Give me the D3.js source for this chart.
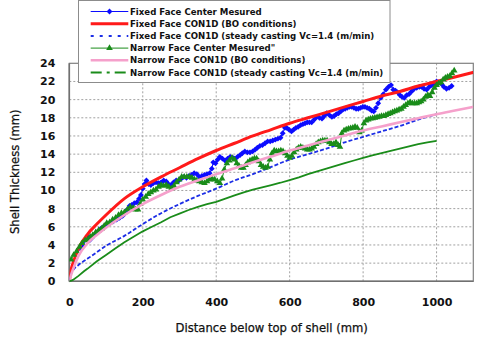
<!DOCTYPE html>
<html><head><meta charset="utf-8">
<script src="https://cdn.jsdelivr.net/npm/d3@7"></script>
<style>
html,body{margin:0;padding:0;background:#fff;}
svg{display:block;}
</style></head>
<body>
<script>
// ---------- DATA ----------
const xTicks = [0, 200, 400, 600, 800, 1000];
const yTicks = [0, 2, 4, 6, 8, 10, 12, 14, 16, 18, 20, 22, 24];

const legendLabels = [
  "Fixed Face Center Mesured",
  "Fixed Face CON1D (BO conditions)",
  "Fixed Face CON1D (steady casting Vc=1.4 (m/min)",
  "Narrow Face Center Mesured\"",
  "Narrow Face CON1D (BO conditions)",
  "Narrow Face CON1D (steady casting Vc=1.4 (m/min)"
];

const fixedMeasured = [[30,3.6],[38,3.9],[45,4.6],[50,5.0],[55,4.5],[62,4.8],[70,5.2],[78,5.5],[86,5.8],[93,6.0],[102,6.2],[111,6.4],[120,6.6],[129,6.8],[137,7.0],[145,7.2],[152,7.5],[158,7.9],[164,8.3],[170,8.4],[177,8.6],[184,8.7],[190,9.1],[195,9.5],[200,10.2],[205,10.7],[210,11.1],[216,10.7],[222,10.6],[229,10.8],[236,10.9],[243,10.8],[250,10.9],[257,11.1],[264,11.0],[270,10.7],[277,10.6],[284,10.9],[291,11.1],[298,11.1],[305,11.3],[312,11.5],[319,11.4],[326,11.6],[333,11.7],[340,11.9],[347,11.8],[354,11.5],[361,11.6],[368,11.7],[375,11.8],[382,11.9],[388,12.4],[392,13.1],[398,13.0],[404,13.4],[410,13.7],[417,13.5],[424,13.3],[431,13.5],[438,13.7],[445,13.6],[451,13.5],[458,13.7],[465,13.9],[471,14.1],[478,14.3],[485,14.2],[492,14.2],[499,14.3],[506,14.5],[512,14.7],[519,14.9],[526,15.0],[533,15.2],[540,15.4],[547,15.4],[554,15.5],[561,15.6],[568,15.7],[575,15.8],[581,16.3],[587,16.9],[592,16.9],[598,16.7],[605,16.5],[611,16.7],[617,16.9],[623,17.0],[630,17.2],[636,17.3],[642,17.4],[648,17.5],[654,17.5],[660,17.5],[667,17.8],[674,18.1],[681,18.0],[688,17.9],[694,18.2],[701,18.5],[708,18.3],[715,18.1],[721,18.2],[727,18.4],[733,18.5],[739,18.7],[745,18.9],[751,19.0],[757,19.1],[763,19.2],[769,19.2],[775,19.1],[781,19.0],[787,19.0],[793,19.1],[799,19.2],[805,19.2],[811,19.1],[817,19.0],[823,18.8],[829,18.7],[835,19.1],[841,19.6],[848,20.2],[855,20.6],[862,21.1],[869,21.4],[876,21.6],[882,21.1],[888,21.0],[894,20.8],[900,20.5],[906,20.3],[912,20.2],[919,20.5],[925,20.6],[932,20.9],[939,21.2],[946,21.3],[953,21.4],[959,21.4],[966,21.2],[973,21.1],[980,21.4],[987,21.6],[993,21.8],[1000,22.0],[1007,21.9],[1014,21.7],[1020,21.4],[1027,21.2],[1034,21.3],[1041,21.5]];

const fixedBO = [[0,0],[5,1.3],[10,2.0],[25,3.6],[50,5.2],[75,6.3],[100,7.3],[150,9.1],[200,10.4],[250,11.5],[300,12.5],[350,13.5],[400,14.4],[450,15.2],[500,16.0],[550,16.7],[600,17.4],[650,18.0],[700,18.6],[750,19.2],[800,19.8],[850,20.4],[900,20.9],[950,21.5],[1000,22.0],[1050,22.5],[1100,23.0]];

const fixedSteady = [[0,0],[5,0.8],[10,1.2],[25,1.8],[50,2.5],[75,3.2],[100,3.9],[150,5.0],[200,6.3],[250,7.5],[300,8.5],[350,9.4],[400,10.2],[450,11.1],[500,11.8],[550,12.6],[600,13.4],[650,14.0],[700,14.6],[750,15.3],[800,15.9],[850,16.5],[900,17.1],[950,17.8],[1000,18.4]];

const narrowMeasured = [[5,2.4],[12,2.9],[20,3.3],[28,3.8],[35,4.2],[43,4.5],[50,4.6],[57,4.9],[64,5.1],[72,5.4],[80,5.6],[88,5.8],[95,6.1],[102,6.4],[110,6.5],[118,6.8],[126,7.0],[134,7.3],[142,7.5],[150,7.6],[158,7.9],[166,8.2],[174,8.1],[180,7.9],[187,7.9],[193,8.5],[200,9.0],[208,9.3],[215,9.6],[222,9.8],[229,10.0],[236,10.1],[243,10.4],[250,10.6],[257,10.5],[264,10.6],[271,10.4],[278,10.2],[285,10.5],[292,10.9],[299,11.2],[306,11.5],[313,11.5],[320,11.5],[327,11.5],[334,11.4],[341,11.2],[347,11.1],[354,11.0],[361,10.9],[368,10.8],[375,11.0],[382,11.2],[389,11.3],[396,11.2],[403,11.0],[410,10.8],[416,11.3],[422,12.3],[429,13.0],[436,13.3],[443,13.6],[450,13.4],[456,13.0],[462,12.7],[468,12.5],[474,12.5],[480,12.8],[486,13.1],[492,13.3],[498,13.4],[504,13.5],[510,13.5],[516,13.2],[522,12.8],[528,12.6],[534,12.5],[540,12.6],[546,13.4],[552,14.1],[558,14.4],[564,14.3],[570,14.3],[576,14.4],[582,14.3],[588,14.1],[594,13.8],[600,13.6],[606,13.8],[612,14.2],[618,14.5],[624,14.7],[630,14.8],[636,14.7],[642,14.6],[648,14.5],[654,14.5],[660,14.6],[666,14.8],[672,15.1],[678,15.3],[684,15.4],[690,15.5],[696,15.5],[702,15.5],[708,15.3],[714,15.1],[720,15.1],[726,15.3],[732,15.0],[737,14.8],[742,16.3],[748,16.6],[754,16.7],[760,16.8],[766,16.85],[772,16.9],[778,17.0],[784,16.9],[790,16.4],[796,16.6],[802,17.4],[808,17.7],[814,17.8],[820,17.9],[826,17.95],[832,18.0],[838,18.05],[844,18.1],[850,18.2],[856,18.2],[862,18.3],[868,18.4],[874,18.5],[880,18.6],[886,18.7],[892,18.8],[898,18.9],[904,19.0],[910,19.2],[916,19.4],[922,19.6],[928,19.7],[934,19.6],[940,19.6],[946,19.6],[952,19.7],[958,19.8],[964,20.0],[970,20.3],[976,20.5],[982,20.4],[988,20.8],[994,21.3],[1000,21.6],[1006,21.8],[1012,21.9],[1018,22.2],[1024,22.4],[1030,22.5],[1036,22.6],[1042,22.9],[1048,23.2]];

const narrowBO = [[0,0],[5,0.7],[10,1.3],[25,2.8],[50,4.2],[75,5.1],[100,5.9],[150,7.3],[200,8.5],[250,9.5],[300,10.4],[350,11.1],[400,11.8],[450,12.45],[500,13.1],[550,13.75],[600,14.4],[650,14.95],[700,15.5],[750,16.05],[800,16.6],[850,17.05],[900,17.5],[950,17.95],[1000,18.4],[1050,18.8],[1100,19.2]];

const narrowSteady = [[0,0],[10,0.15],[25,0.6],[40,1.1],[50,1.4],[75,2.2],[100,2.9],[125,3.6],[150,4.3],[175,4.9],[200,5.5],[225,6.0],[250,6.5],[275,7.05],[300,7.45],[325,7.85],[350,8.2],[375,8.5],[400,8.75],[425,9.1],[450,9.45],[475,9.8],[500,10.1],[525,10.35],[550,10.6],[575,10.85],[600,11.15],[625,11.45],[650,11.8],[675,12.1],[700,12.4],[725,12.7],[750,13.0],[775,13.3],[800,13.6],[825,13.85],[850,14.1],[875,14.35],[900,14.6],[925,14.85],[950,15.1],[975,15.3],[1000,15.45]];

// ---------- CHART ----------
const W = 478, H = 338;
const FONT = "'DejaVu Sans', Verdana, sans-serif";
const svg = d3.select("body").append("svg").attr("width", W).attr("height", H);

const x = d3.scaleLinear().domain([0, 1100]).range([69.3, 473.3]);
const y = d3.scaleLinear().domain([0, 24]).range([281.3, 63.3]);

const BLUE = "#0c0cff", BLUE2 = "#1c2ee6", RED = "#ff1a1a", GREEN = "#1a8c1a", PINK = "#f5a0cb";

// gridlines
svg.append("g").selectAll("line").data(yTicks.filter(d => d > 0 && d < 24)).join("line")
  .attr("x1", x(0)).attr("x2", x(1100)).attr("y1", d => y(d)).attr("y2", d => y(d))
  .attr("stroke", "#a0a0a0").attr("stroke-width", 1).attr("stroke-dasharray", "2,2");
svg.append("g").selectAll("line").data(xTicks.filter(d => d > 0)).join("line")
  .attr("x1", d => x(d)).attr("x2", d => x(d)).attr("y1", y(0)).attr("y2", y(24))
  .attr("stroke", "#a0a0a0").attr("stroke-width", 1).attr("stroke-dasharray", "2,2");

// frame
svg.append("rect").attr("x", x(0)).attr("y", y(24)).attr("width", x(1100) - x(0)).attr("height", y(0) - y(24))
  .attr("fill", "none").attr("stroke", "#808080").attr("stroke-width", 1.2);
svg.append("line").attr("x1", x(0)).attr("x2", x(0)).attr("y1", y(24)).attr("y2", y(0)).attr("stroke", "#707070").attr("stroke-width", 1.6);
svg.append("line").attr("x1", x(0)).attr("x2", x(1100)).attr("y1", y(0)).attr("y2", y(0)).attr("stroke", "#707070").attr("stroke-width", 1.6);

// axes (labels only)
const xAxis = svg.append("g").attr("transform", `translate(0,${y(0)})`)
  .call(d3.axisBottom(x).tickValues(xTicks).tickSize(0).tickPadding(17).tickFormat(d3.format("d")));
const yAxis = svg.append("g").attr("transform", `translate(${x(0)},0)`)
  .call(d3.axisLeft(y).tickValues(yTicks).tickSize(0).tickPadding(14).tickFormat(d3.format("d")));
[xAxis, yAxis].forEach(a => {
  a.select(".domain").remove();
  a.selectAll("text").attr("font-family", FONT).attr("font-weight", "bold").attr("font-size", 11).attr("fill", "#111");
});

// axis titles
svg.append("text").attr("x", 271.7).attr("y", 331.5).attr("text-anchor", "middle")
  .attr("font-family", FONT).attr("font-size", 11.6).attr("fill", "#111").attr("stroke", "#111").attr("stroke-width", 0.25)
  .text("Distance below top of shell (mm)");
svg.append("text").attr("transform", "translate(19,171.7) rotate(-90)").attr("text-anchor", "middle")
  .attr("font-family", FONT).attr("font-size", 11.6).attr("fill", "#111").attr("stroke", "#111").attr("stroke-width", 0.25)
  .text("Shell Thickness (mm)");

// clip
svg.append("clipPath").attr("id", "clip").append("rect")
  .attr("x", x(0)).attr("y", y(24) - 4).attr("width", x(1100) - x(0)).attr("height", y(0) - y(24) + 8);
const plot = svg.append("g").attr("clip-path", "url(#clip)");

const lineLin = d3.line().x(d => x(d[0])).y(d => y(d[1]));
const lineSmooth = d3.line().x(d => x(d[0])).y(d => y(d[1])).curve(d3.curveMonotoneX);

const diamond = d3.symbol().type(d3.symbolSquare).size(17);
const triangle = d3.symbol().type(d3.symbolTriangle).size(19);

// series 1: fixed measured
plot.append("path").datum(fixedMeasured).attr("d", lineLin).attr("fill", "none").attr("stroke", BLUE).attr("stroke-width", 1);
plot.append("g").selectAll("path").data(fixedMeasured).join("path")
  .attr("d", diamond).attr("transform", d => `translate(${x(d[0])},${y(d[1])}) rotate(45)`).attr("fill", BLUE);
// series 2: fixed BO
plot.append("path").datum(fixedBO).attr("d", lineSmooth).attr("fill", "none").attr("stroke", RED).attr("stroke-width", 3);
// series 3: fixed steady
plot.append("path").datum(fixedSteady).attr("d", lineSmooth).attr("fill", "none").attr("stroke", BLUE2).attr("stroke-width", 1.8).attr("stroke-dasharray", "4,2");
// series 4: narrow measured
plot.append("path").datum(narrowMeasured).attr("d", lineLin).attr("fill", "none").attr("stroke", GREEN).attr("stroke-width", 1);
plot.append("g").selectAll("path").data(narrowMeasured).join("path")
  .attr("d", triangle).attr("transform", d => `translate(${x(d[0])},${y(d[1])})`).attr("fill", GREEN);
// series 5: narrow BO
plot.append("path").datum(narrowBO).attr("d", lineSmooth).attr("fill", "none").attr("stroke", PINK).attr("stroke-width", 2.6);
// series 6: narrow steady
plot.append("path").datum(narrowSteady).attr("d", lineLin).attr("fill", "none").attr("stroke", GREEN).attr("stroke-width", 1.8);

// legend
const lg = svg.append("g");
lg.append("rect").attr("x", 78.5).attr("y", 0.5).attr("width", 311.5).attr("height", 82)
  .attr("fill", "#fff").attr("stroke", "#8c8c8c").attr("stroke-width", 1);
const styles = [
  {c: BLUE, w: 1, dash: null, m: "d"},
  {c: RED, w: 3, dash: null},
  {c: BLUE2, w: 2, dash: "3,6"},
  {c: GREEN, w: 1, dash: null, m: "t"},
  {c: PINK, w: 2.6, dash: null},
  {c: GREEN, w: 1.8, dash: "11,5,3,5"}
];
legendLabels.forEach((lab, i) => {
  const cy = 11.5 + i * 12.2;
  const s = styles[i];
  lg.append("line").attr("x1", 90.7).attr("x2", 128.3).attr("y1", cy).attr("y2", cy)
    .attr("stroke", s.c).attr("stroke-width", s.w).attr("stroke-dasharray", s.dash);
  if (s.m === "d") lg.append("path").attr("d", diamond).attr("transform", `translate(109.5,${cy}) rotate(45)`).attr("fill", s.c);
  if (s.m === "t") lg.append("path").attr("d", triangle).attr("transform", `translate(109.5,${cy})`).attr("fill", s.c);
  lg.append("text").attr("x", 130).attr("y", cy).attr("dy", "0.35em")
    .attr("font-family", FONT).attr("font-weight", "bold").attr("font-size", 8.6).attr("fill", "#111").text(lab);
});
</script>
</body></html>
